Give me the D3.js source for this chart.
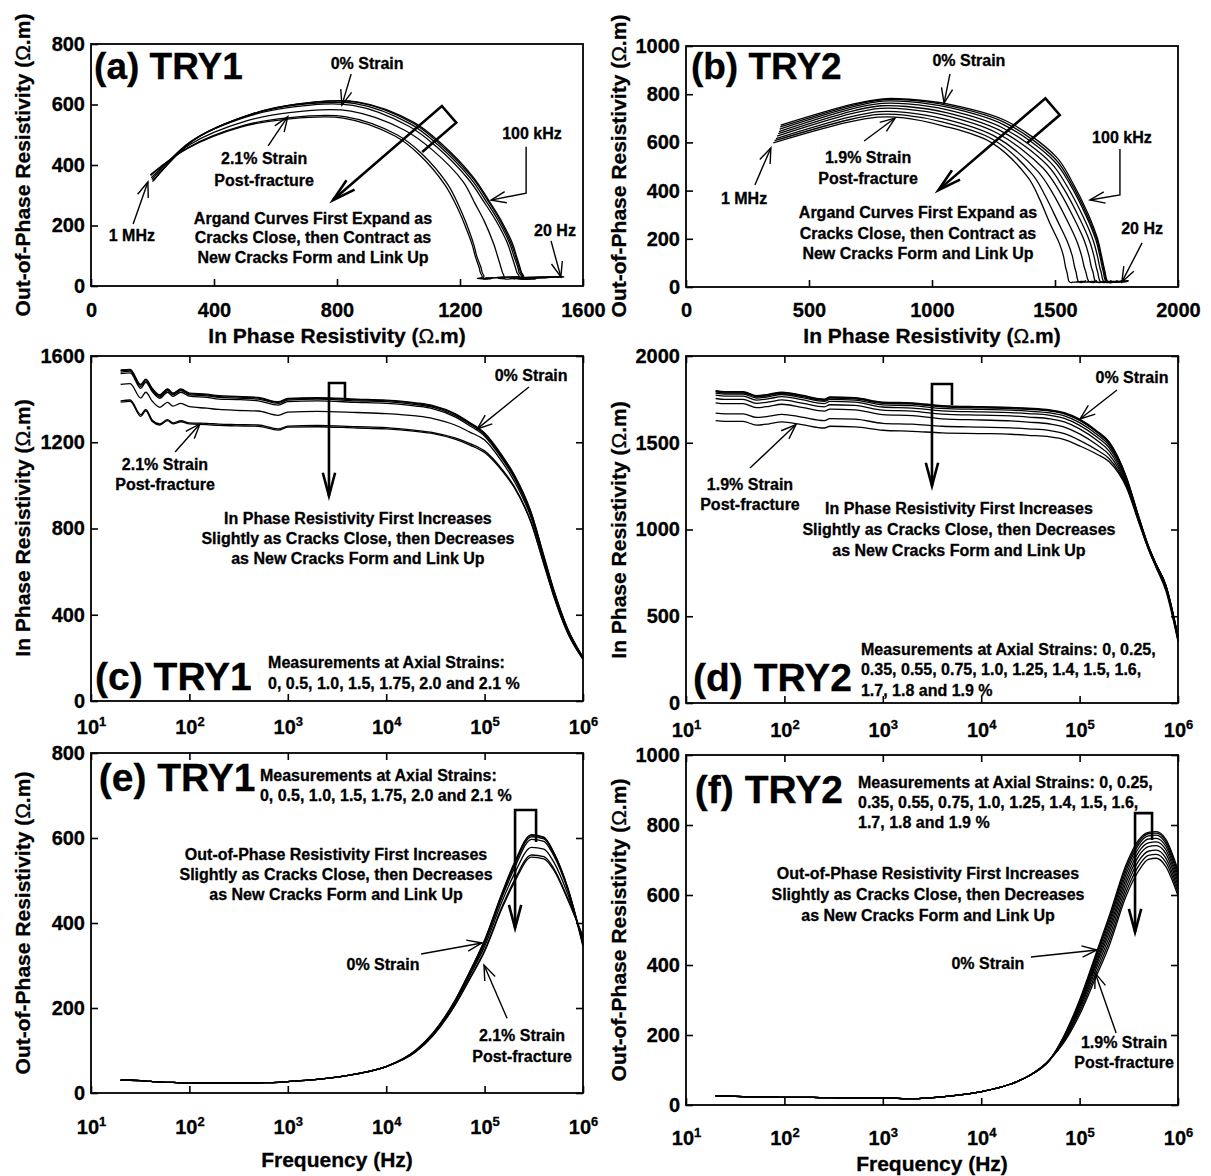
<!DOCTYPE html>
<html>
<head>
  <meta charset="utf-8">
  <title>argand-strain-panels</title>
  <style>
    * { margin: 0; padding: 0; }
    body { background: #fff; }
    svg { display: block; background: #fff; }
    svg text { stroke: #000; stroke-width: 0.3px; }
    .curve { fill: none; stroke: #000; stroke-width: 1.3; }
    .frame { fill: none; stroke: #000; stroke-width: 1.8; }
    .note-line { fill: none; stroke: #000; stroke-width: 1.4; }
    .flag-line { fill: none; stroke: #000; stroke-width: 2.6; stroke-linejoin: miter; }
  </style>
</head>
<body>
  <svg id="chart" width="1211" height="1176"></svg>
  <script src="https://cdnjs.cloudflare.com/ajax/libs/d3/7.8.5/d3.min.js"></script>
  <script>
    // ---- TRY1 (strains 0, 0.5, 1.0, 1.5, 1.75, 2.0, 2.1 %) ----
    const freq1 = [20, 25, 32, 36, 42, 50, 60, 68, 82, 100, 150, 200, 300, 500, 800, 1e3, 2e3, 5e3, 1e4,
      2e4, 3e4, 5e4, 7e4, 1e5, 1.5e5, 2e5, 3e5, 4e5, 5e5, 7e5, 1e6];
    const inPhase1 = [
      [1525, 1530, 1458, 1485, 1440, 1410, 1440, 1420, 1440, 1420, 1415, 1408, 1405, 1400, 1380, 1395, 1400, 1392, 1388, 1375, 1362, 1325, 1285, 1235, 1130, 1040, 860, 665, 515, 330, 200],
      [1532, 1535, 1465, 1490, 1446, 1416, 1445, 1425, 1444, 1424, 1420, 1412, 1410, 1405, 1385, 1400, 1404, 1397, 1392, 1380, 1366, 1330, 1290, 1240, 1136, 1046, 866, 670, 519, 333, 202],
      [1535, 1538, 1468, 1493, 1450, 1420, 1448, 1428, 1447, 1428, 1423, 1416, 1413, 1408, 1388, 1403, 1407, 1400, 1395, 1383, 1370, 1333, 1293, 1243, 1140, 1050, 870, 674, 522, 335, 204],
      [1518, 1522, 1450, 1478, 1434, 1404, 1432, 1413, 1432, 1414, 1408, 1400, 1398, 1392, 1372, 1388, 1392, 1385, 1380, 1368, 1355, 1318, 1278, 1228, 1124, 1034, 852, 658, 508, 325, 198],
      [1468, 1472, 1405, 1432, 1390, 1362, 1385, 1368, 1380, 1365, 1358, 1352, 1348, 1345, 1325, 1340, 1343, 1338, 1333, 1322, 1310, 1280, 1248, 1210, 1110, 1020, 845, 652, 503, 322, 196],
      [1392, 1396, 1328, 1352, 1302, 1285, 1305, 1290, 1300, 1290, 1288, 1284, 1282, 1280, 1262, 1275, 1278, 1272, 1268, 1255, 1245, 1220, 1195, 1160, 1075, 995, 825, 638, 494, 316, 194],
      [1386, 1390, 1320, 1346, 1296, 1280, 1300, 1285, 1295, 1285, 1282, 1278, 1276, 1274, 1256, 1270, 1272, 1266, 1262, 1250, 1240, 1214, 1188, 1152, 1068, 990, 820, 634, 490, 314, 193]
    ];
    // out-of-phase: common part 20 Hz .. 10 kHz, then each strain 20 kHz .. 1 MHz
    const outLow1 = [30, 30, 29, 28, 27, 26, 25, 25, 24, 24, 23, 23, 23, 24, 25, 27, 32, 45, 62];
    const outHigh1 = [
      [100, 140, 215, 280, 355, 465, 535, 603, 598, 565, 480, 345],
      [100, 141, 217, 283, 358, 468, 539, 607, 601, 567, 482, 348],
      [101, 142, 218, 284, 360, 470, 541, 608, 602, 568, 483, 350],
      [100, 140, 214, 278, 352, 460, 528, 597, 592, 560, 478, 352],
      [99, 138, 212, 274, 345, 450, 515, 578, 574, 545, 468, 358],
      [97, 136, 208, 268, 336, 438, 500, 560, 556, 530, 458, 365],
      [97, 135, 206, 266, 333, 434, 495, 555, 551, 526, 455, 368]
    ];

    // ---- TRY2 ----
    const freq2 = [20, 25, 38, 52, 70, 94, 150, 255, 290, 520, 1e3, 2e3, 4e3, 1e4, 2e4, 3e4, 5e4,
      7e4, 1e5, 1.5e5, 2e5, 3e5, 4e5, 5e5, 6e5, 7.5e5, 1e6];
    const inPhase2 = [
      [1800, 1795, 1795, 1772, 1780, 1792, 1774, 1752, 1764, 1760, 1734, 1730, 1714, 1708, 1704, 1699, 1689, 1673, 1636, 1568, 1505, 1300, 1072, 906, 800, 682, 385],
      [1797, 1792, 1792, 1769, 1777, 1789, 1771, 1749, 1761, 1757, 1731, 1727, 1711, 1705, 1701, 1696, 1686, 1670, 1632, 1564, 1500, 1296, 1070, 905, 799, 681, 383],
      [1793, 1788, 1788, 1765, 1773, 1785, 1767, 1745, 1757, 1753, 1727, 1723, 1707, 1701, 1697, 1692, 1682, 1666, 1628, 1560, 1495, 1292, 1068, 903, 798, 680, 381],
      [1786, 1781, 1781, 1758, 1766, 1778, 1760, 1738, 1750, 1746, 1718, 1714, 1698, 1692, 1688, 1682, 1672, 1655, 1616, 1548, 1484, 1284, 1063, 900, 795, 678, 378],
      [1774, 1769, 1769, 1746, 1754, 1766, 1748, 1726, 1738, 1734, 1706, 1700, 1684, 1678, 1674, 1668, 1658, 1640, 1600, 1533, 1470, 1276, 1058, 897, 793, 676, 375],
      [1755, 1750, 1750, 1727, 1735, 1747, 1729, 1707, 1719, 1715, 1688, 1682, 1665, 1659, 1655, 1648, 1638, 1620, 1580, 1514, 1452, 1266, 1053, 894, 790, 673, 370],
      [1730, 1725, 1725, 1702, 1710, 1722, 1704, 1682, 1694, 1690, 1662, 1656, 1638, 1631, 1626, 1619, 1608, 1590, 1551, 1488, 1430, 1256, 1048, 891, 787, 668, 366],
      [1671, 1667, 1667, 1646, 1653, 1664, 1648, 1628, 1639, 1636, 1612, 1607, 1595, 1590, 1586, 1580, 1570, 1552, 1514, 1458, 1408, 1248, 1045, 889, 784, 662, 360],
      [1627, 1623, 1623, 1602, 1609, 1620, 1605, 1585, 1595, 1592, 1572, 1566, 1557, 1553, 1549, 1543, 1534, 1518, 1482, 1434, 1390, 1240, 1040, 886, 780, 650, 355]
    ];
    const outLow2 = [26, 25, 24, 23, 23, 22, 22, 21, 21, 20, 20, 18, 23, 38, 60, 82, 130];
    const outHigh2 = [
      [200, 300, 440, 540, 690, 758, 779, 781, 760, 672],
      [198, 296, 434, 532, 682, 752, 775, 777, 755, 664],
      [196, 292, 428, 524, 673, 745, 769, 771, 748, 655],
      [194, 288, 420, 514, 662, 735, 760, 762, 740, 645],
      [192, 284, 412, 504, 650, 724, 749, 752, 730, 636],
      [190, 279, 404, 493, 638, 712, 738, 741, 719, 626],
      [187, 273, 394, 480, 625, 698, 725, 728, 706, 616],
      [184, 266, 383, 467, 612, 684, 713, 716, 694, 607],
      [180, 258, 372, 455, 600, 670, 702, 705, 682, 598]
    ];

    // tick values
    const logTicks = [10, 100, 1e3, 1e4, 1e5, 1e6];
    const ticksA = { x: [0, 400, 800, 1200, 1600], y: [0, 200, 400, 600, 800] };
    const ticksB = { x: [0, 500, 1000, 1500, 2000], y: [0, 200, 400, 600, 800, 1000] };
    const ticksC = [0, 400, 800, 1200, 1600];
    const ticksD = [0, 500, 1000, 1500, 2000];
    const ticksE = [0, 200, 400, 600, 800];
    const ticksF = [0, 200, 400, 600, 800, 1000];

    const series1 = inPhase1.map((row, i) => {
      const op = outLow1.concat(outHigh1[i]);
      return freq1.map((f, j) => ({ f, ip: row[j], op: op[j] }));
    });
    const series2 = inPhase2.map((row, i) => {
      const op = outLow2.concat(outHigh2[i]);
      return freq2.map((f, j) => ({ f, ip: row[j], op: op[j] }));
    });

    const FONT = '"Liberation Sans", Arial, Helvetica, sans-serif';
    const svg = d3.select('#chart').attr('font-family', FONT).attr('font-weight', 'bold');

    const P = {
      a: { box: { l: 91, r: 583, t: 44, b: 286 }, x: d3.scaleLinear().domain([0, 1600]), y: d3.scaleLinear().domain([0, 800]) },
      b: { box: { l: 686, r: 1178, t: 46, b: 287 }, x: d3.scaleLinear().domain([0, 2000]), y: d3.scaleLinear().domain([0, 1000]) },
      c: { box: { l: 91, r: 583, t: 356, b: 701 }, x: d3.scaleLog().domain([10, 1e6]), y: d3.scaleLinear().domain([0, 1600]) },
      d: { box: { l: 686, r: 1178, t: 356, b: 703 }, x: d3.scaleLog().domain([10, 1e6]), y: d3.scaleLinear().domain([0, 2000]) },
      e: { box: { l: 91, r: 583, t: 753, b: 1093 }, x: d3.scaleLog().domain([10, 1e6]), y: d3.scaleLinear().domain([0, 800]) },
      f: { box: { l: 686, r: 1178, t: 755, b: 1105 }, x: d3.scaleLog().domain([10, 1e6]), y: d3.scaleLinear().domain([0, 1000]) }
    };
    Object.values(P).forEach(p => {
      p.x.range([p.box.l, p.box.r]);
      p.y.range([p.box.b, p.box.t]);
    });

    function styleAxis(g) {
      g.select('.domain').remove();
      g.attr('font-size', 20).attr('font-family', FONT).attr('font-weight', 'bold');
      g.selectAll('.tick line').attr('stroke', '#000').attr('stroke-width', 1.6);
      g.selectAll('.tick text').attr('fill', '#000');
    }

    function drawAxes(p, xTicks, yTicks, opt) {
      const g = svg.append('g');
      const xb = d3.axisBottom(p.x).tickValues(xTicks).tickSizeInner(-7).tickSizeOuter(0).tickPadding(opt.xPad);
      if (!opt.log) xb.tickFormat(d3.format('d'));
      const gx = g.append('g').attr('transform', `translate(0,${p.box.b})`).call(xb);
      styleAxis(gx);
      if (opt.log) {
        gx.selectAll('.tick text').text(null).each(function (d) {
          const t = d3.select(this);
          t.append('tspan').text('10');
          t.append('tspan').attr('dy', '-0.6em').attr('font-size', 13).text(Math.round(Math.log10(d)));
        });
      }
      const gy = g.append('g').attr('transform', `translate(${p.box.l},0)`)
        .call(d3.axisLeft(p.y).tickValues(yTicks).tickSizeInner(-7).tickSizeOuter(0).tickPadding(6).tickFormat(d3.format('d')));
      styleAxis(gy);
      if (opt.mirror) {
        const gt = g.append('g').attr('transform', `translate(0,${p.box.t})`)
          .call(d3.axisTop(p.x).tickValues(xTicks).tickSizeInner(-7).tickSizeOuter(0).tickFormat(''));
        styleAxis(gt);
        const gr = g.append('g').attr('transform', `translate(${p.box.r},0)`)
          .call(d3.axisRight(p.y).tickValues(yTicks).tickSizeInner(-7).tickSizeOuter(0).tickFormat(''));
        styleAxis(gr);
      }
      g.append('rect').attr('class', 'frame')
        .attr('x', p.box.l).attr('y', p.box.t)
        .attr('width', p.box.r - p.box.l).attr('height', p.box.b - p.box.t);
    }

    function title(x, y, parts, rotate) {
      const t = svg.append('text').attr('font-size', 21).attr('text-anchor', 'middle')
        .attr('transform', rotate ? `translate(${x},${y}) rotate(-90)` : `translate(${x},${y})`);
      parts.forEach(s => {
        const sp = t.append('tspan').text(s);
        if (s === 'Ω') sp.attr('font-weight', 'normal');
      });
    }

    function drawArgand(p, series) {
      const line = d3.line().x(d => p.x(d.ip)).y(d => p.y(d.op)).curve(d3.curveCatmullRom.alpha(0.5));
      svg.append('g').selectAll('path').data(series).join('path').attr('class', 'curve').attr('d', line);
    }

    function drawVsFreq(p, series, key) {
      const line = d3.line().x(d => p.x(d.f)).y(d => p.y(d[key])).curve(d3.curveMonotoneX);
      svg.append('g').selectAll('path').data(series).join('path').attr('class', 'curve').attr('d', line);
    }

    function head(g, from, tip, len, ang, cls) {
      const a = Math.atan2(tip[1] - from[1], tip[0] - from[0]);
      const p1 = [tip[0] - len * Math.cos(a - ang), tip[1] - len * Math.sin(a - ang)];
      const p2 = [tip[0] - len * Math.cos(a + ang), tip[1] - len * Math.sin(a + ang)];
      g.append('path').attr('class', cls).attr('d', `M${p1}L${tip}L${p2}`);
    }

    // annotations, positions given in each panel's data units
    const notes = {
      a: {
        label: { at: [10, 684], text: '(a) TRY1', size: 37 },
        arrows: [[[846, 701], [816, 598]], [[576, 463], [640, 560]], [[137, 205], [185, 344]],
          [[1415, 460], [1415, 307], [1301, 284]], [[1496, 149], [1528, 30]]],
        flag: { p0: [1141, 595], tip: [787, 284], w: 22, b: 45 },
        texts: [
          { at: [898, 717], lines: ['0% Strain'] },
          { at: [563, 403], lines: ['2.1% Strain', 'Post-fracture'], gap: 22 },
          { at: [133, 149], lines: ['1 MHz'] },
          { at: [1434, 486], lines: ['100 kHz'] },
          { at: [1509, 165], lines: ['20 Hz'] },
          { at: [722, 205], lines: ['Argand Curves First Expand as', 'Cracks Close, then Contract as', 'New Cracks Form and Link Up'], gap: 19.5 }
        ]
      },
      b: {
        label: { at: [20, 863], text: '(b) TRY2', size: 37 },
        arrows: [[[1073, 884], [1049, 763]], [[724, 606], [850, 701]], [[280, 423], [345, 577]],
          [[1764, 573], [1764, 382], [1642, 361]], [[1854, 183], [1772, 21]]],
        flag: { p0: [1461, 783], tip: [1026, 402], w: 22, b: 43 },
        texts: [
          { at: [1150, 917], lines: ['0% Strain'] },
          { at: [740, 515], lines: ['1.9% Strain', 'Post-fracture'], gap: 21 },
          { at: [236, 344], lines: ['1 MHz'] },
          { at: [1772, 598], lines: ['100 kHz'] },
          { at: [1854, 220], lines: ['20 Hz'] },
          { at: [943, 286], lines: ['Argand Curves First Expand as', 'Cracks Close, then Contract as', 'New Cracks Form and Link Up'], gap: 20.5 }
        ]
      },
      c: {
        label: { at: [11, 51], text: '(c) TRY1', size: 39 },
        arrows: [[[2.82e5, 1456], [8.4e4, 1262]], [[71.5, 1155], [128, 1285]]],
        flag: { p0: [2620, 1475], tip: [2620, 951], w: 16, b: 15 },
        texts: [
          { at: [2.97e5, 1484], lines: ['0% Strain'] },
          { at: [56.5, 1071], lines: ['2.1% Strain', 'Post-fracture'], gap: 20 },
          { at: [5160, 821], lines: ['In Phase Resistivity First Increases', 'Slightly as Cracks Close, then Decreases', 'as New Cracks Form and Link Up'], gap: 20 },
          { at: [630, 153], lines: ['Measurements at Axial Strains:', '0, 0.5, 1.0, 1.5, 1.75, 2.0 and 2.1 %'], gap: 21, anchor: 'start' }
        ]
      },
      d: {
        label: { at: [11.8, 69], text: '(d) TRY2', size: 39 },
        arrows: [[[2.4e5, 1804], [1.01e5, 1637]], [[44.7, 1354], [131, 1605]]],
        flag: { p0: [3160, 1839], tip: [3160, 1251], w: 20, b: 21 },
        texts: [
          { at: [3.41e5, 1844], lines: ['0% Strain'] },
          { at: [44.7, 1228], lines: ['1.9% Strain', 'Post-fracture'], gap: 20 },
          { at: [5940, 1089], lines: ['In Phase Resistivity First Increases', 'Slightly as Cracks Close, then Decreases', 'as New Cracks Form and Link Up'], gap: 21 },
          { at: [600, 277], lines: ['Measurements at Axial Strains: 0, 0.25,', '0.35, 0.55, 0.75, 1.0, 1.25, 1.4, 1.5, 1.6,', '1.7, 1.8 and 1.9 %'], gap: 20.5, anchor: 'start' }
        ]
      },
      e: {
        label: { at: [12, 711], text: '(e) TRY1', size: 39 },
        arrows: [[[2.26e4, 327], [9.4e4, 353]], [[1.69e5, 176], [9.86e4, 301]]],
        flag: { p0: [2.04e5, 666], tip: [2.04e5, 388], w: 21, b: 32 },
        texts: [
          { at: [9270, 289], lines: ['0% Strain'] },
          { at: [2.4e5, 122], lines: ['2.1% Strain', 'Post-fracture'], gap: 21 },
          { at: [3090, 548], lines: ['Out-of-Phase Resistivity First Increases', 'Slightly as Cracks Close, then Decreases', 'as New Cracks Form and Link Up'], gap: 20 },
          { at: [521, 734], lines: ['Measurements at Axial Strains:', '0, 0.5, 1.0, 1.5, 1.75, 2.0 and 2.1 %'], gap: 20, anchor: 'start' }
        ]
      },
      f: {
        label: { at: [12.3, 863], text: '(f) TRY2', size: 39 },
        arrows: [[[3.2e4, 423], [1.5e5, 443]], [[2.35e5, 206], [1.44e5, 377]]],
        flag: { p0: [3.66e5, 834], tip: [3.66e5, 494], w: 17, b: 27 },
        texts: [
          { at: [1.17e4, 389], lines: ['0% Strain'] },
          { at: [2.83e5, 163], lines: ['1.9% Strain', 'Post-fracture'], gap: 20 },
          { at: [2880, 646], lines: ['Out-of-Phase Resistivity First Increases', 'Slightly as Cracks Close, then Decreases', 'as New Cracks Form and Link Up'], gap: 21 },
          { at: [560, 906], lines: ['Measurements at Axial Strains: 0, 0.25,', '0.35, 0.55, 0.75, 1.0, 1.25, 1.4, 1.5, 1.6,', '1.7, 1.8 and 1.9 %'], gap: 20, anchor: 'start' }
        ]
      }
    };

    function drawNotes(p, n) {
      const g = svg.append('g');
      const px = d => [p.x(d[0]), p.y(d[1])];
      g.append('text').attr('x', p.x(n.label.at[0])).attr('y', p.y(n.label.at[1]))
        .attr('font-size', n.label.size).text(n.label.text);
      n.texts.forEach(t => {
        const [x, y] = px(t.at);
        const el = g.append('text').attr('font-size', 16).attr('text-anchor', t.anchor || 'middle');
        t.lines.forEach((s, i) => el.append('tspan').attr('x', x).attr('y', y + i * (t.gap || 20)).text(s));
      });
      n.arrows.forEach(a => {
        const pts = a.map(px);
        g.append('path').attr('class', 'note-line').attr('d', d3.line()(pts));
        head(g, pts[pts.length - 2], pts[pts.length - 1], 16, 0.36, 'note-line');
      });
      const f = n.flag, p0 = px(f.p0), tip = px(f.tip);
      const L = Math.hypot(tip[0] - p0[0], tip[1] - p0[1]);
      const ux = (tip[0] - p0[0]) / L, uy = (tip[1] - p0[1]) / L;
      const nx = uy, ny = -ux;
      const c1 = [p0[0] + nx * f.w, p0[1] + ny * f.w];
      const c2 = [c1[0] + ux * f.b, c1[1] + uy * f.b];
      g.append('path').attr('class', 'flag-line').attr('d', d3.line()([c2, c1, p0, tip]));
      head(g, p0, tip, 24, 0.26, 'flag-line');
    }

    // panel (a) / (b): Argand plots
    drawArgand(P.a, series1);
    drawAxes(P.a, ticksA.x, ticksA.y, { log: false, mirror: false, xPad: 17 });
    drawArgand(P.b, series2);
    drawAxes(P.b, ticksB.x, ticksB.y, { log: false, mirror: false, xPad: 16 });
    // panel (c) / (d): in-phase vs frequency
    drawVsFreq(P.c, series1, 'ip');
    drawAxes(P.c, logTicks, ticksC, { log: true, mirror: true, xPad: 19 });
    drawVsFreq(P.d, series2, 'ip');
    drawAxes(P.d, logTicks, ticksD, { log: true, mirror: true, xPad: 20 });
    // panel (e) / (f): out-of-phase vs frequency
    drawVsFreq(P.e, series1, 'op');
    drawAxes(P.e, logTicks, ticksE, { log: true, mirror: true, xPad: 27 });
    drawVsFreq(P.f, series2, 'op');
    drawAxes(P.f, logTicks, ticksF, { log: true, mirror: true, xPad: 26 });

    Object.keys(notes).forEach(k => drawNotes(P[k], notes[k]));

    const inTitle = ['In Phase Resistivity (', 'Ω', '.m)'];
    const outTitle = ['Out-of-Phase Resistivity (', 'Ω', '.m)'];
    title(337, 343, inTitle, false);
    title(932, 343, inTitle, false);
    title(30, 165, outTitle, true);
    title(626, 166, outTitle, true);
    title(30, 528, inTitle, true);
    title(626, 530, inTitle, true);
    title(30, 923, outTitle, true);
    title(626, 930, outTitle, true);
    title(337, 1167, ['Frequency (Hz)'], false);
    title(932, 1171, ['Frequency (Hz)'], false);
  </script>
</body>
</html>
